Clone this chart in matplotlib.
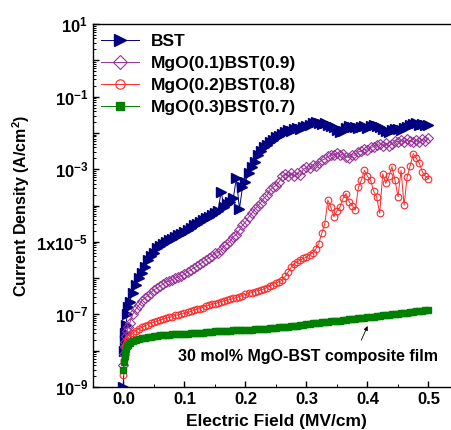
import numpy as np
import matplotlib
matplotlib.use("Agg")
import matplotlib.pyplot as plt
from matplotlib.ticker import MultipleLocator, LogLocator, NullFormatter

plt.rcParams["font.family"] = ["Liberation Sans", "DejaVu Sans"]
plt.rcParams["font.weight"] = "bold"
plt.rcParams["mathtext.fontset"] = "custom"
plt.rcParams["mathtext.rm"] = "Liberation Sans:bold"
plt.rcParams["mathtext.bf"] = "Liberation Sans:bold"
plt.rcParams["mathtext.it"] = "Liberation Sans:bold"

# ── Dados (campo em MV/cm, log10 da densidade de corrente) ──
E_FIELD = [0.0, 0.001, 0.002, 0.003, 0.004, 0.006, 0.008,
           0.010, 0.015, 0.020, 0.025, 0.030, 0.035, 0.040, 0.045, 0.050,
           0.055, 0.060, 0.065, 0.070, 0.075, 0.080, 0.085, 0.090, 0.095, 0.100,
           0.105, 0.110, 0.115, 0.120, 0.125, 0.130, 0.135, 0.140, 0.145, 0.150,
           0.155, 0.160, 0.165, 0.170, 0.175, 0.180, 0.185, 0.190, 0.195, 0.200,
           0.205, 0.210, 0.215, 0.220, 0.225, 0.230, 0.235, 0.240, 0.245, 0.250,
           0.255, 0.260, 0.265, 0.270, 0.275, 0.280, 0.285, 0.290, 0.295, 0.300,
           0.305, 0.310, 0.315, 0.320, 0.325, 0.330, 0.335, 0.340, 0.345, 0.350,
           0.355, 0.360, 0.365, 0.370, 0.375, 0.380, 0.385, 0.390, 0.395, 0.400,
           0.405, 0.410, 0.415, 0.420, 0.425, 0.430, 0.435, 0.440, 0.445, 0.450,
           0.455, 0.460, 0.465, 0.470, 0.475, 0.480, 0.485, 0.490, 0.495, 0.500]

LOG_J_BST = [-9.00, -8.00, -7.70, -7.50, -7.30, -7.00, -6.80,
             -6.65, -6.40, -6.20, -6.00, -5.85, -5.70, -5.50, -5.40, -5.30,
             -5.18, -5.12, -5.06, -5.00, -4.96, -4.92, -4.88, -4.82, -4.78, -4.74,
             -4.68, -4.62, -4.55, -4.50, -4.45, -4.40, -4.34, -4.31, -4.26, -4.20,
             -4.14, -3.62, -4.05, -3.96, -3.90, -3.80, -3.25, -4.10, -3.50, -3.35,
             -3.10, -2.95, -2.80, -2.62, -2.50, -2.40, -2.32, -2.25, -2.20, -2.12,
             -2.08, -2.02, -1.98, -1.93, -1.95, -1.90, -1.86, -1.88, -1.83, -1.80,
             -1.78, -1.74, -1.70, -1.72, -1.76, -1.74, -1.78, -1.80, -1.85, -1.92,
             -1.98, -1.95, -1.86, -1.82, -1.85, -1.84, -1.87, -1.83, -1.82, -1.86,
             -1.80, -1.78, -1.80, -1.84, -1.90, -1.95, -1.98, -1.93, -1.90, -1.88,
             -1.92, -1.86, -1.84, -1.78, -1.76, -1.72, -1.78, -1.75, -1.77, -1.78]

LOG_J_MGO01 = [-8.40, -8.10, -7.90, -7.76, -7.60, -7.45, -7.35,
               -7.25, -7.00, -6.86, -6.75, -6.62, -6.55, -6.48, -6.40, -6.32,
               -6.28, -6.22, -6.16, -6.10, -6.08, -6.04, -6.00, -5.96, -5.93, -5.90,
               -5.82, -5.78, -5.72, -5.68, -5.62, -5.56, -5.50, -5.45, -5.38, -5.32,
               -5.30, -5.22, -5.12, -5.05, -4.98, -4.86, -4.80, -4.68, -4.55, -4.45,
               -4.32, -4.22, -4.10, -4.02, -3.92, -3.80, -3.72, -3.58, -3.50, -3.45,
               -3.35, -3.20, -3.12, -3.18, -3.10, -3.20, -3.10, -3.15, -3.00, -2.95,
               -2.98, -2.88, -2.92, -2.82, -2.75, -2.72, -2.65, -2.62, -2.60, -2.55,
               -2.62, -2.58, -2.66, -2.68, -2.60, -2.62, -2.52, -2.50, -2.45, -2.48,
               -2.40, -2.38, -2.32, -2.30, -2.35, -2.28, -2.36, -2.30, -2.22, -2.25,
               -2.20, -2.24, -2.18, -2.22, -2.26, -2.20, -2.25, -2.18, -2.22, -2.14]

LOG_J_MGO02 = [-8.68, -8.26, -8.00, -7.90, -7.82, -7.72, -7.65,
               -7.60, -7.52, -7.46, -7.40, -7.36, -7.32, -7.28, -7.24, -7.22,
               -7.19, -7.16, -7.13, -7.10, -7.08, -7.06, -7.03, -7.01, -6.99, -6.97,
               -6.94, -6.92, -6.89, -6.86, -6.84, -6.81, -6.78, -6.75, -6.72, -6.70,
               -6.68, -6.65, -6.63, -6.61, -6.58, -6.56, -6.54, -6.51, -6.48, -6.45,
               -6.42, -6.40, -6.37, -6.35, -6.33, -6.30, -6.26, -6.22, -6.18, -6.14,
               -6.10, -6.06, -5.95, -5.83, -5.70, -5.60, -5.55, -5.50, -5.46, -5.42,
               -5.35, -5.30, -5.20, -5.05, -4.77, -4.50, -3.85, -4.05, -4.31, -4.15,
               -4.04, -3.80, -3.67, -3.90, -4.00, -4.13, -3.50, -3.30, -3.03, -3.20,
               -3.30, -3.60, -3.76, -4.22, -3.12, -3.39, -3.20, -2.93, -3.30, -3.76,
               -3.03, -3.99, -3.21, -2.90, -2.57, -2.70, -2.84, -3.07, -3.20, -3.26]

LOG_J_MGO03 = [-8.54, -8.30, -8.15, -8.05, -7.95, -7.88, -7.83,
               -7.79, -7.74, -7.70, -7.68, -7.66, -7.64, -7.62, -7.61, -7.60,
               -7.59, -7.58, -7.57, -7.56, -7.56, -7.55, -7.55, -7.54, -7.54, -7.53,
               -7.53, -7.52, -7.52, -7.51, -7.50, -7.50, -7.49, -7.49, -7.48, -7.47,
               -7.47, -7.46, -7.46, -7.45, -7.45, -7.44, -7.44, -7.43, -7.43, -7.43,
               -7.42, -7.42, -7.41, -7.40, -7.40, -7.39, -7.39, -7.38, -7.38, -7.37,
               -7.36, -7.36, -7.35, -7.34, -7.33, -7.32, -7.31, -7.30, -7.28, -7.27,
               -7.26, -7.25, -7.24, -7.23, -7.22, -7.21, -7.20, -7.19, -7.19, -7.18,
               -7.17, -7.16, -7.15, -7.14, -7.13, -7.12, -7.11, -7.10, -7.09, -7.08,
               -7.07, -7.06, -7.05, -7.04, -7.03, -7.02, -7.01, -7.00, -6.99, -6.98,
               -6.97, -6.96, -6.95, -6.94, -6.93, -6.92, -6.91, -6.90, -6.88, -6.87]

SERIES = ["BST", "MgO(0.1)BST(0.9)", "MgO(0.2)BST(0.8)", "MgO(0.3)BST(0.7)"]
YTICK_EXP = [-9, -8, -7, -6, -5, -4, -3, -2, -1, 0, 1]
YTICK_LABELS = {1: r"$10^{1}$", -1: r"$10^{-1}$", -3: r"$10^{-3}$",
                -5: r"$1x10^{-5}$", -7: r"$10^{-7}$", -9: r"$10^{-9}$"}
XTICKS = [0.0, 0.1, 0.2, 0.3, 0.4, 0.5]

# ── Figura ────────────────────────────────────────────────────────────────────
fig = plt.figure(figsize=(4.52, 4.30), dpi=100)
ax = fig.add_axes([93 / 452, 1 - 387 / 430, 366 / 452, 363 / 430])

estilos = [
    dict(marker=">", color="#000080", mfc="#000080", mec="#000080", ms=6.5),
    dict(marker="D", color="#993399", mfc="none", mec="#993399", ms=4.8, mew=0.8),
    dict(marker="o", color="#ff2a2a", mfc="none", mec="#ff2a2a", ms=4.8, mew=0.8),
    dict(marker="s", color="#008000", mfc="#008000", mec="#008000", ms=4.3),
]
dados = [LOG_J_BST, LOG_J_MGO01, LOG_J_MGO02, LOG_J_MGO03]
x = np.array(E_FIELD)
for nome, logj, st in zip(SERIES, dados, estilos):
    ax.plot(x, 10.0 ** np.array(logj), lw=0.7, label=nome, **st)

ax.set_yscale("log")
ax.set_xlim(-0.05, 0.55)
ax.set_ylim(1e-9, 1e1)

ax.set_yticks([10.0 ** e for e in YTICK_EXP])
ax.set_yticklabels([YTICK_LABELS.get(e, "") for e in YTICK_EXP])
ax.yaxis.set_minor_locator(LogLocator(base=10, subs=np.arange(2, 10), numticks=30))
ax.yaxis.set_minor_formatter(NullFormatter())
ax.set_xticks(XTICKS)
ax.set_xticklabels([f"{v:.1f}" for v in XTICKS])
ax.xaxis.set_minor_locator(MultipleLocator(0.05))

ax.tick_params(which="both", direction="in", top=False, right=False, labelsize=12)
ax.tick_params(which="major", length=4, width=1)
ax.tick_params(which="minor", length=2.2, width=0.7)
for s in ax.spines.values():
    s.set_linewidth(1.0)

ax.set_xlabel("Electric Field (MV/cm)", fontsize=12.5, fontweight="bold", labelpad=5)
ax.set_ylabel(r"Current Density (A/cm$^{2}$)", fontsize=11.5, fontweight="bold", labelpad=3)

ax.legend(loc="upper left", frameon=False, fontsize=12.5, markerscale=1.4,
          handlelength=2.2, handletextpad=0.7, labelspacing=0.4,
          borderaxespad=0.05, bbox_to_anchor=(0.0, 0.995))

ax.annotate("", xy=(0.402, 10 ** -7.25), xytext=(0.388, 10 ** -7.78),
            arrowprops=dict(arrowstyle="-|>", lw=0.6, color="black", mutation_scale=6))
ax.text(0.302, 10 ** -8.15, "30 mol% MgO-BST composite film", fontsize=11.5,
        fontweight="bold", ha="center", va="center")

fig.savefig("out.png", dpi=100)
